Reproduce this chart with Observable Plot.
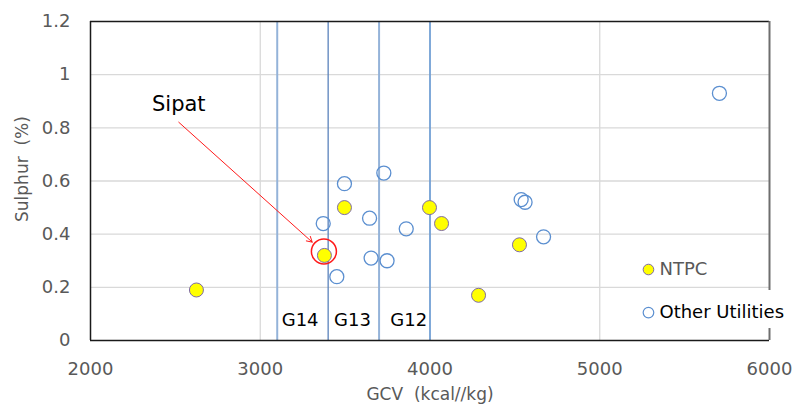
<!DOCTYPE html>
<html>
<head>
<meta charset="utf-8">
<script src="https://cdn.jsdelivr.net/npm/d3@7"></script>
<script src="https://cdn.jsdelivr.net/npm/@observablehq/plot@0.6"></script>
<style>
  html, body { margin: 0; padding: 0; background: #fff; }
  #chart svg { display: block; }
</style>
</head>
<body>
<div id="chart"></div>
<script>
// ---- data ----
const ntpcGCV = [2624, 3378, 3496, 3997, 4068, 4286, 4527];
const ntpcS   = [0.19, 0.32, 0.50, 0.50, 0.44, 0.17, 0.36];
const otherGCV = [3371, 3451, 3496, 3644, 3653, 3728, 3747, 3860, 4537, 4560, 4669, 5705];
const otherS   = [0.44, 0.24, 0.59, 0.46, 0.31, 0.63, 0.30, 0.42, 0.53, 0.52, 0.39, 0.93];
const gradeBounds = [3100, 3400, 3700, 4000];
const gradeLabels = ["G14", "G13", "G12"];
const gradeLabelX = [3235, 3543, 3875];
const gradeLabelY = [0.075, 0.075, 0.075];
const xTicks = [2000, 3000, 4000, 5000, 6000];
const yTicks = [0, 0.2, 0.4, 0.6, 0.8, 1, 1.2];
const sipat = {label: "Sipat", x: 2520, y: 0.888, ax1: 2520, ay1: 0.821, ax2: 3306, ay2: 0.37, rx: 3375, ry: 0.335};
const legendNames = ["NTPC", "Other Utilities"];
const legendX = [5287, 5287];
const legendY = [0.267, 0.105];

const ntpc = ntpcGCV.map((g, i) => ({gcv: g, s: ntpcS[i]}));
const other = otherGCV.map((g, i) => ({gcv: g, s: otherS[i]}));
const grades = gradeLabels.map((t, i) => ({t, x: gradeLabelX[i], y: gradeLabelY[i]}));
const legend = legendNames.map((t, i) => ({t, x: legendX[i], y: legendY[i]}));

const grey = "#595959";
const blueLight = "#94b3d9";
const blueDark = "#5a82bb";

const chart = Plot.plot({
  width: 794,
  height: 405,
  marginLeft: 90,
  marginRight: 25,
  marginTop: 21,
  marginBottom: 65,
  style: {fontFamily: "DejaVu Sans", background: "#fff", overflow: "visible"},
  x: {domain: [2000, 6000]},
  y: {domain: [0, 1.2]},
  marks: [
    // gridlines
    Plot.ruleX([3000, 4000, 5000], {stroke: "#d9d9d9", strokeWidth: 1.3}),
    Plot.ruleY([0.2, 0.4, 0.6, 0.8, 1.0], {stroke: "#d9d9d9", strokeWidth: 1.3}),
    // grade boundaries
    Plot.ruleX(gradeBounds, {
      stroke: (d, i) => (i % 2 === 0 ? blueLight : (i === 3 ? "#4a89d2" : blueDark)),
      strokeWidth: (d, i) => (i % 2 === 0 ? 2 : 1.3)
    }),
    // frame
    Plot.ruleY([1.2], {stroke: "#1a1a1a", strokeWidth: 1.5}),
    Plot.ruleY([0], {stroke: "#1a1a1a", strokeWidth: 1.5}),
    Plot.ruleX([2000], {stroke: "#1a1a1a", strokeWidth: 1.5}),
    Plot.ruleX([6000], {y1: 0.188, y2: 1.2, stroke: "#6e6e6e", strokeWidth: 2}),
    Plot.ruleX([6000], {y1: 0, y2: 0.045, stroke: "#6e6e6e", strokeWidth: 2}),
    // axes
    Plot.axisX({ticks: xTicks, tickSize: 0, tickPadding: 22, fontSize: 18, fill: grey, label: null, tickFormat: d => String(d)}),
    Plot.axisY({ticks: yTicks, tickSize: 0, tickPadding: 20, fontSize: 18, fill: grey, label: null, tickFormat: d => String(d)}),
    Plot.text(["GCV\u00a0\u00a0(kcal//kg)"], {frameAnchor: "bottom", dy: 54, fontSize: 17, fill: grey, lineAnchor: "middle"}),
    Plot.text(["Sulphur\u00a0\u00a0(%)"], {y: [0.645], frameAnchor: "left", dx: -68, rotate: -90, textAnchor: "middle", fontSize: 17, fill: grey, lineAnchor: "middle"}),
    // grade labels
    Plot.text(grades, {x: "x", y: "y", text: "t", fontSize: 18, fill: "#000"}),
    // points
    Plot.dot(other, {x: "gcv", y: "s", r: 7, stroke: "#5b8fd0", strokeWidth: 1.3, fill: "none"}),
    Plot.dot(ntpc, {x: "gcv", y: "s", r: 7, stroke: "#7e6aa5", strokeWidth: 1, fill: "#ffff00"}),
    // Sipat annotation
    Plot.dot([sipat], {x: "rx", y: "ry", r: 12.5, stroke: "#ff1a1a", strokeWidth: 1.5, fill: "none"}),
    Plot.arrow([sipat], {x1: "ax1", y1: "ay1", x2: "ax2", y2: "ay2", stroke: "#ff1a1a", strokeWidth: 1, headLength: 9, bend: 0}),
    Plot.text([sipat], {x: "x", y: "y", text: "label", fontSize: 21, fill: "#000"}),
    // legend
    Plot.dot([legend[0]], {x: "x", y: "y", r: 5.3, fill: "#ffff00", stroke: "#7e6aa5", strokeWidth: 1}),
    Plot.dot([legend[1]], {x: "x", y: "y", r: 5.3, fill: "none", stroke: "#5b8fd0", strokeWidth: 1.2}),
    Plot.text([legend[0]], {x: "x", y: "y", text: "t", dx: 11, textAnchor: "start", fontSize: 18, fill: grey}),
    Plot.text([legend[1]], {x: "x", y: "y", text: "t", dx: 11, textAnchor: "start", fontSize: 18, fill: "#000"})
  ]
});
document.getElementById("chart").appendChild(chart);
</script>
</body>
</html>
